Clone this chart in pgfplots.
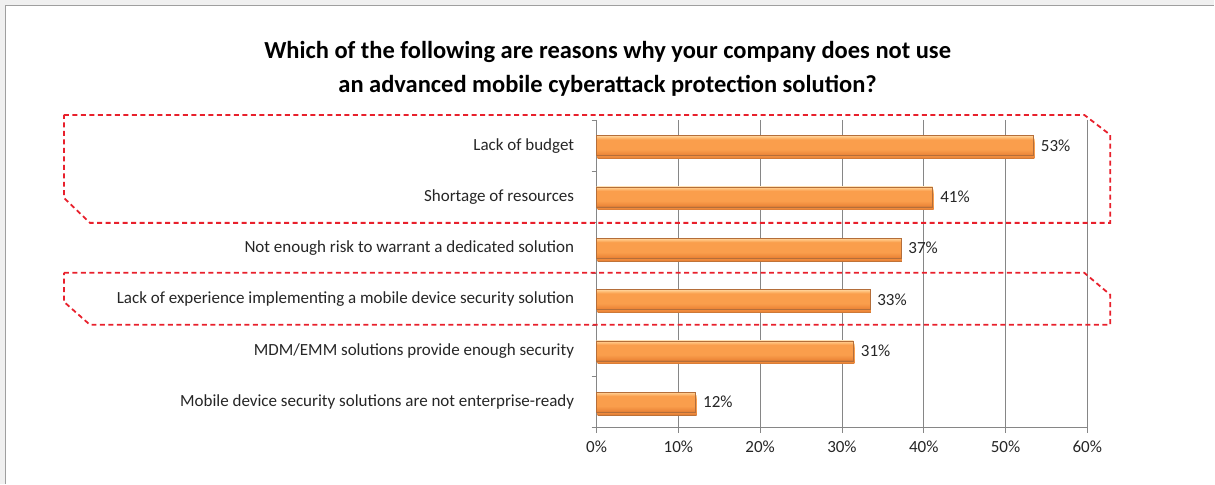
\documentclass[border=0pt]{standalone}
\usepackage{fontspec}
\setmainfont{Carlito}
\usepackage{pgfplots}
\pgfplotsset{compat=1.18}
\definecolor{bardark}{RGB}{185,112,55}
\definecolor{barlow}{RGB}{236,134,56}
\definecolor{barmid}{RGB}{250,158,76}
\definecolor{bartop}{RGB}{255,192,122}
\definecolor{barhi}{RGB}{255,214,160}
\definecolor{baredge}{RGB}{180,110,58}
\definecolor{axgray}{RGB}{134,134,134}
\definecolor{boxred}{RGB}{232,32,44}
\pgfdeclareverticalshading{barshade}{100bp}{color(0bp)=(bardark); color(25bp)=(bardark); color(28bp)=(barlow); color(40bp)=(barmid); color(65bp)=(barmid); color(71bp)=(bartop); color(75bp)=(barhi); color(100bp)=(barhi)}
\pgfplotsset{
  orangebar/.style={xbar, bar width=20pt, bar shift=0pt,
    shading=barshade, draw=baredge, line width=0.5pt,
    preaction={draw=none, fill=black!10, transform canvas={xshift=1pt, yshift=-3pt}},
    point meta=x,
    nodes near coords={\pgfmathprintnumber[fixed,precision=0]{\pgfplotspointmeta}\%},
    nodes near coords style={font=\fontsize{17}{19}\selectfont, text=black!85, anchor=west, xshift=4pt}},
}
\begin{document}
\begin{tikzpicture}[x=1pt,y=1pt]
\fill[gray!12] (0,0) rectangle (1215,484);
\fill[white] (6,0) rectangle (1215,478);
\draw[gray!75, line width=1.6pt] (5.5,0) -- (5.5,478.5) -- (1215,478.5);
\path[use as bounding box] (0,0) rectangle (1215,484);
\node[font=\fontsize{24.5}{34}\selectfont\bfseries, align=center] at (608,415)
  {Which of the following are reasons why your company does not use\\an advanced mobile cyberattack protection solution?};
\begin{axis}[
  at={(597pt,56pt)}, anchor=south west, scale only axis,
  width=491pt, height=308pt,
  xmin=0, xmax=60, ymin=-0.5, ymax=5.5, y dir=reverse,
  axis x line*=bottom, axis y line*=left,
  axis line style={axgray, line width=0.8pt},
  xtick={0,10,...,50}, extra x ticks={60},
  extra x tick style={grid style={gray!35, line width=0.8pt}},
  xticklabel={\pgfmathprintnumber{\tick}\%},
  /pgf/number format/assume math mode=true,
  xmajorgrids, major grid style={axgray, line width=0.8pt},
  tick align=outside, major tick length=5pt, minor tick length=5pt,
  x tick style={axgray, line width=0.8pt},
  ytick={0,...,5},
  minor ytick={-0.5,0.5,...,5.5},
  major y tick style={draw=none},
  minor y tick style={axgray, line width=0.8pt},
  yticklabels={Lack of budget, Shortage of resources, Not enough risk to warrant a dedicated solution, Lack of experience implementing a mobile device security solution, MDM/EMM solutions provide enough security, Mobile device security solutions are not enterprise-ready},
  ticklabel style={font=\fontsize{17}{19}\selectfont, text=black!85},
  yticklabel style={xshift=-14pt},
  xticklabel style={yshift=-5pt},
  clip=false,
]
\addplot[orangebar] coordinates {(53.4,0)};
\addplot[orangebar] coordinates {(41.1,1)};
\addplot[orangebar] coordinates {(37.2,2)};
\addplot[orangebar] coordinates {(33.4,3)};
\addplot[orangebar] coordinates {(31.4,4)};
\addplot[orangebar] coordinates {(12.1,5)};
\end{axis}
\draw[boxred, line width=1.8pt, dash pattern=on 5pt off 3.5pt]
  (64,369) -- (1085,369) -- (1111,349) -- (1111,261) -- (90,261) -- (64,286) -- cycle;
\draw[boxred, line width=1.8pt, dash pattern=on 5pt off 3.5pt]
  (64,211) -- (1085,211) -- (1111,189) -- (1111,159) -- (90,159) -- (64,182) -- cycle;
\end{tikzpicture}
\end{document}
